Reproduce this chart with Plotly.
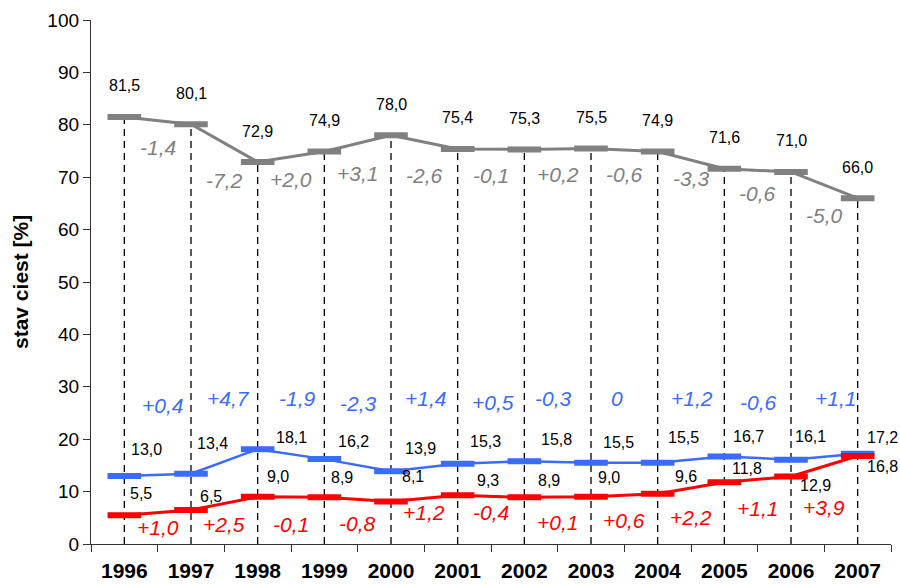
import plotly.graph_objects as go

# ---- data ----
years = ["1996", "1997", "1998", "1999", "2000", "2001", "2002", "2003", "2004", "2005", "2006", "2007"]
gray_vals = [81.5, 80.1, 72.9, 74.9, 78.0, 75.4, 75.3, 75.5, 74.9, 71.6, 71.0, 66.0]
blue_vals = [13.0, 13.4, 18.1, 16.2, 13.9, 15.3, 15.8, 15.5, 15.5, 16.7, 16.1, 17.2]
red_vals = [5.5, 6.5, 9.0, 8.9, 8.1, 9.3, 8.9, 9.0, 9.6, 11.8, 12.9, 16.8]

gray_diffs = ["-1,4", "-7,2", "+2,0", "+3,1", "-2,6", "-0,1", "+0,2", "-0,6", "-3,3", "-0,6", "-5,0"]
blue_diffs = ["+0,4", "+4,7", "-1,9", "-2,3", "+1,4", "+0,5", "-0,3", "0", "+1,2", "-0,6", "+1,1"]
red_diffs = ["+1,0", "+2,5", "-0,1", "-0,8", "+1,2", "-0,4", "+0,1", "+0,6", "+2,2", "+1,1", "+3,9"]

y_ticks = list(range(0, 101, 10))

# ---- styling / label placement (pixel offsets) ----
GRAY = "#808080"
BLUE = "#3A6BFA"
RED = "#FF0000"
FONT = "Liberation Sans, Arial, sans-serif"

blue_lbl_dx = [22, 21, 34, 29, 29, 28, 32, 27, 26, 24, 19, 25]
blue_lbl_dy = [26, 30, 12, 18, 23, 22, 22, 20, 25, 20, 23, 16]
red_lbl_dx = [17, 20, 20, 18, 22, 30, 25, 18, 28, 23, 24, 25]
red_lbl_dy = [22, 13, 20, 20, 25, 15, 17, 19, 17, 14, -9, -11]
gray_diff_down = [27, 37, 23, 30, 33, 26, 26, 25, 18, 23, 30]
blue_diff_dy = [139, 146, 146, 141, 146, 142, 146, 146, 146, 142, 146]
blue_diff_dx = [5, 4, 6, 1, 1, 2, -4, -7, 1, 1, 11]
red_diff_dy = [17, 20, 20, 21, 32, 32, 22, 24, 27, 36, 37]


def fmt(v):
    return f"{v:.1f}".replace(".", ",")


fig = go.Figure()

# dashed drop lines from gray points to the axis
dx, dy = [], []
for yr, g in zip(years, gray_vals):
    dx += [yr, yr, None]
    dy += [0, g, None]
fig.add_trace(go.Scatter(x=dx, y=dy, mode="lines", hoverinfo="skip",
                         line=dict(color="black", width=1.3, dash="7px,5px"),
                         showlegend=False))

for vals, col, lw in [(gray_vals, GRAY, 3), (blue_vals, BLUE, 2.5), (red_vals, RED, 3)]:
    fig.add_trace(go.Scatter(
        x=years, y=vals, mode="lines+markers", showlegend=False,
        line=dict(color=col, width=lw),
        marker=dict(symbol="line-ew", size=24, color=col,
                    line=dict(color=col, width=6)),
    ))

ann = []
vfont = dict(family=FONT, size=16, color="black")
for i, v in enumerate(gray_vals):
    ann.append(dict(x=i, y=v, text=fmt(v), yshift=31, xshift=0))
for i, v in enumerate(blue_vals):
    ann.append(dict(x=i, y=v, text=fmt(v), yshift=blue_lbl_dy[i], xshift=blue_lbl_dx[i]))
for i, v in enumerate(red_vals):
    ann.append(dict(x=i, y=v, text=fmt(v), yshift=red_lbl_dy[i], xshift=red_lbl_dx[i]))
for a in ann:
    a.update(showarrow=False, xanchor="center", yanchor="middle", font=vfont)


def dfont(c):
    return dict(family=FONT, size=21, color=c, style="italic")


for i, t in enumerate(gray_diffs):
    ann.append(dict(x=i + 0.5, y=(gray_vals[i] + gray_vals[i + 1]) / 2, text=t,
                    yshift=-gray_diff_down[i], showarrow=False,
                    xanchor="center", yanchor="middle", font=dfont(GRAY)))
for i, t in enumerate(blue_diffs):
    ann.append(dict(x=i + 0.5, y=0, text=t, yshift=blue_diff_dy[i], xshift=blue_diff_dx[i],
                    showarrow=False, xanchor="center", yanchor="middle", font=dfont(BLUE)))
for i, t in enumerate(red_diffs):
    ann.append(dict(x=i + 0.5, y=0, text=t, yshift=red_diff_dy[i],
                    showarrow=False, xanchor="center", yanchor="middle", font=dfont(RED)))

# y-axis title
ann.append(dict(xref="paper", yref="paper", x=0, y=0.5, xshift=-71, text="<b>stav ciest [%]</b>",
                textangle=-90, showarrow=False, xanchor="center", yanchor="middle",
                font=dict(family=FONT, size=21, color="black")))

fig.update_layout(
    width=900, height=584,
    margin=dict(l=91, r=9, t=20, b=40, autoexpand=False),
    plot_bgcolor="white", paper_bgcolor="white",
    annotations=ann,
    xaxis=dict(type="category", categoryorder="array", categoryarray=years,
               range=[-0.5, 11.5], showgrid=False, zeroline=False, automargin=False,
               showline=True, linecolor="#333333", linewidth=1.3,
               ticks="outside", tickson="boundaries", ticklen=7, tickcolor="#333333",
               ticklabelstandoff=8,
               tickfont=dict(family=FONT, size=21, color="black", weight="bold")),
    yaxis=dict(range=[0, 100], tickvals=y_ticks, showgrid=False, zeroline=False, automargin=False,
               showline=True, linecolor="#333333", linewidth=1.3,
               ticks="outside", ticklen=7, tickcolor="#333333",
               tickfont=dict(family=FONT, size=19, color="black")),
)

fig.write_html("out.html", config={"displayModeBar": False},
               post_script="document.body.style.margin='0px';document.body.style.overflow='hidden';")
